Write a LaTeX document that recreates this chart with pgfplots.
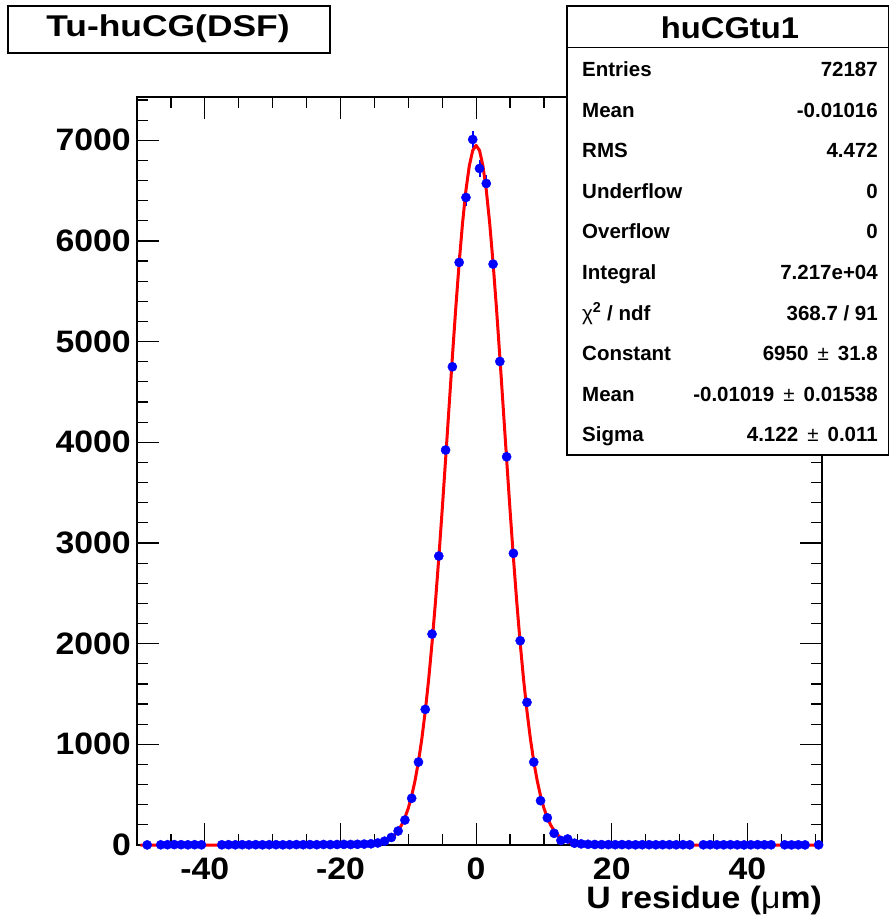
\documentclass[border=0pt]{standalone}
\usepackage{pgfplots}
\pgfplotsset{compat=1.18}
\usepackage{fontspec}
\setmainfont{Liberation Sans}
\newfontfamily\widefont{Liberation Sans}[FakeStretch=1.09]
\newfontfamily\titlefont{Liberation Sans}[FakeStretch=1.18]
\usepackage{pgfplotstable}

\pgfplotstableread{
x y e
-48.5 1 1
-46.5 2 1.4
-45.5 3 1.7
-44.5 4 2
-43.5 3 1.7
-42.5 2 1.4
-41.5 3 1.7
-40.5 2 1.4
-37.5 2 1.4
-36.5 3 1.7
-35.5 2 1.4
-34.5 3 1.7
-33.5 2 1.4
-32.5 3 1.7
-31.5 2 1.4
-30.5 3 1.7
-29.5 3 1.7
-28.5 2 1.4
-27.5 3 1.7
-26.5 4 2
-25.5 3 1.7
-24.5 4 2
-23.5 3 1.7
-22.5 5 2.2
-21.5 4 2
-20.5 5 2.2
-19.5 6 2.4
-18.5 5 2.2
-17.5 7 2.6
-16.5 9 3
-15.5 12 3.5
-14.5 20 4.5
-13.5 38 6.2
-12.5 75 8.7
-11.5 139 11.8
-10.5 248 15.7
-9.5 464 21.5
-8.5 824 28.7
-7.5 1347 36.7
-6.5 2095 45.8
-5.5 2870 53.6
-4.5 3923 62.6
-3.5 4750 68.9
-2.5 5787 76.1
-1.5 6432 80.2
-0.5 7008 83.7
0.5 6720 82.0
1.5 6571 81.1
2.5 5770 76.0
3.5 4803 69.3
4.5 3856 62.1
5.5 2897 53.8
6.5 2029 45.0
7.5 1417 37.6
8.5 824 28.7
9.5 440 21.0
10.5 270 16.4
11.5 116 10.8
12.5 45 6.7
13.5 60 7.7
14.5 18 4.2
15.5 11 3.3
16.5 7 2.6
17.5 5 2.2
18.5 4 2
19.5 4 2
20.5 3 1.7
21.5 4 2
22.5 3 1.7
23.5 2 1.4
24.5 3 1.7
25.5 3 1.7
26.5 2 1.4
27.5 3 1.7
28.5 3 1.7
29.5 2 1.4
30.5 3 1.7
31.5 2 1.4
33.5 2 1.4
34.5 3 1.7
35.5 2 1.4
36.5 2 1.4
37.5 3 1.7
38.5 2 1.4
39.5 1 1
40.5 2 1.4
41.5 3 1.7
42.5 2 1.4
43.5 2 1.4
45.5 2 1.4
46.5 1 1
47.5 2 1.4
48.5 1 1
50.5 2 1.4
}\histdata

\pgfplotstableread{
x y
-49.5 0
-20 0
-18 0.5
-17 1.4
-16 3.7
-15 9.3
-14 21.7
-13.5 32.6
-13 48.1
-12.5 70.0
-12 100.4
-11.5 141.9
-11 197.5
-10.5 271
-10 366
-9.5 488
-9 641
-8.5 829
-8 1057
-7.5 1328
-7 1643
-6.5 2005
-6 2409
-5.5 2854
-5 3330
-4.5 3830
-4 4340
-3.5 4847
-3 5333
-2.5 5782
-2 6178
-1.5 6505
-1 6748
-0.5 6899
0 6950
0.5 6899
1 6748
1.5 6505
2 6178
2.5 5782
3 5333
3.5 4847
4 4340
4.5 3830
5 3330
5.5 2854
6 2409
6.5 2005
7 1643
7.5 1328
8 1057
8.5 829
9 641
9.5 488
10 366
10.5 271
11 197.5
11.5 141.9
12 100.4
12.5 70.0
13 48.1
13.5 32.6
14 21.7
15 9.3
16 3.7
17 1.4
18 0.5
20 0
50.5 0
}\fitdata

\begin{document}
\begin{tikzpicture}[x=1pt,y=1pt]
\useasboundingbox (0,0) rectangle (889,918);
\begin{axis}[
  at={(137pt,73pt)}, anchor=south west,
  scale only axis, width=685pt, height=748pt,
  xmin=-50, xmax=51, ymin=0, ymax=7430,
  xtick={-40,-20,0,20,40}, xticklabels={-40,-20,0,20,40},
  minor xtick={-50,-45,...,50},
  ytick={0,1000,2000,3000,4000,5000,6000,7000},
  yticklabels={0,1000,2000,3000,4000,5000,6000,7000},
  minor ytick={200,400,...,7400},
  major tick length=22pt, minor tick length=11pt,
  axis line style={line width=1.3pt},
  every tick/.style={line width=1.2pt, black},
  tick label style={font=\widefont\fontsize{31}{31}\selectfont\bfseries, inner sep=0pt},
  yticklabel style={anchor=east, xshift=-6pt},
  xticklabel style={anchor=north, yshift=-13pt},
  xlabel={U residue ({\mdseries μ}m)},
  xlabel style={at={(axis description cs:1,0)}, anchor=base east, yshift=-63pt, inner sep=0pt, font=\widefont\fontsize{31}{31}\selectfont\bfseries},
  clip=false,
]
\addplot[only marks, mark=*, mark size=4.6pt, color=blue,
  mark options={fill=blue, draw=blue},
  error bars/.cd, y dir=both, y explicit, error mark=none,
  error bar style={line width=2pt, blue}]
  table[x=x, y=y, y error=e] {\histdata};
\addplot[color=red, line width=3pt, line join=round] table[x=x, y=y] {\fitdata};
\end{axis}

% title box
\draw[line width=1.2pt, fill=white] (8,865) rectangle (330,912);
\node[inner sep=0pt, anchor=base, font=\titlefont\fontsize{30}{30}\selectfont\bfseries] at (168,881) {Tu-huCG(DSF)};

% stats box
\draw[line width=1.2pt, fill=white] (567,463) rectangle (888.4,912);
\draw[line width=1.2pt] (567,870.3) -- (888.4,870.3);
\node[inner sep=0pt, anchor=base, font=\widefont\fontsize{30}{30}\selectfont\bfseries] at (730,879) {huCGtu1};
\begin{scope}[every node/.style={inner sep=0pt, font=\fontsize{20.5}{20.5}\selectfont\bfseries}]
\node[anchor=base west] at (582,841.3) {Entries};
\node[anchor=base east] at (878,841.3) {72187};
\node[anchor=base west] at (582,800.7) {Mean};
\node[anchor=base east] at (878,800.7) {-0.01016};
\node[anchor=base west] at (582,760.2) {RMS};
\node[anchor=base east] at (878,760.2) {4.472};
\node[anchor=base west] at (582,719.6) {Underflow};
\node[anchor=base east] at (878,719.6) {0};
\node[anchor=base west] at (582,679.0) {Overflow};
\node[anchor=base east] at (878,679.0) {0};
\node[anchor=base west] at (582,638.5) {Integral};
\node[anchor=base east] at (878,638.5) {7.217e+04};
\node[anchor=base west] at (582,597.9) {{\mdseries χ}\textsuperscript{2} / ndf};
\node[anchor=base east] at (878,597.9) {368.7 / 91};
\node[anchor=base west] at (582,557.4) {Constant};
\node[anchor=base east] at (878,557.4) {6950 {\mdseries\,±\,} 31.8};
\node[anchor=base west] at (582,516.8) {Mean};
\node[anchor=base east] at (878,516.8) {-0.01019 {\mdseries\,±\,} 0.01538};
\node[anchor=base west] at (582,476.2) {Sigma};
\node[anchor=base east] at (878,476.2) {4.122 {\mdseries\,±\,} 0.011};
\end{scope}
\end{tikzpicture}
\end{document}
